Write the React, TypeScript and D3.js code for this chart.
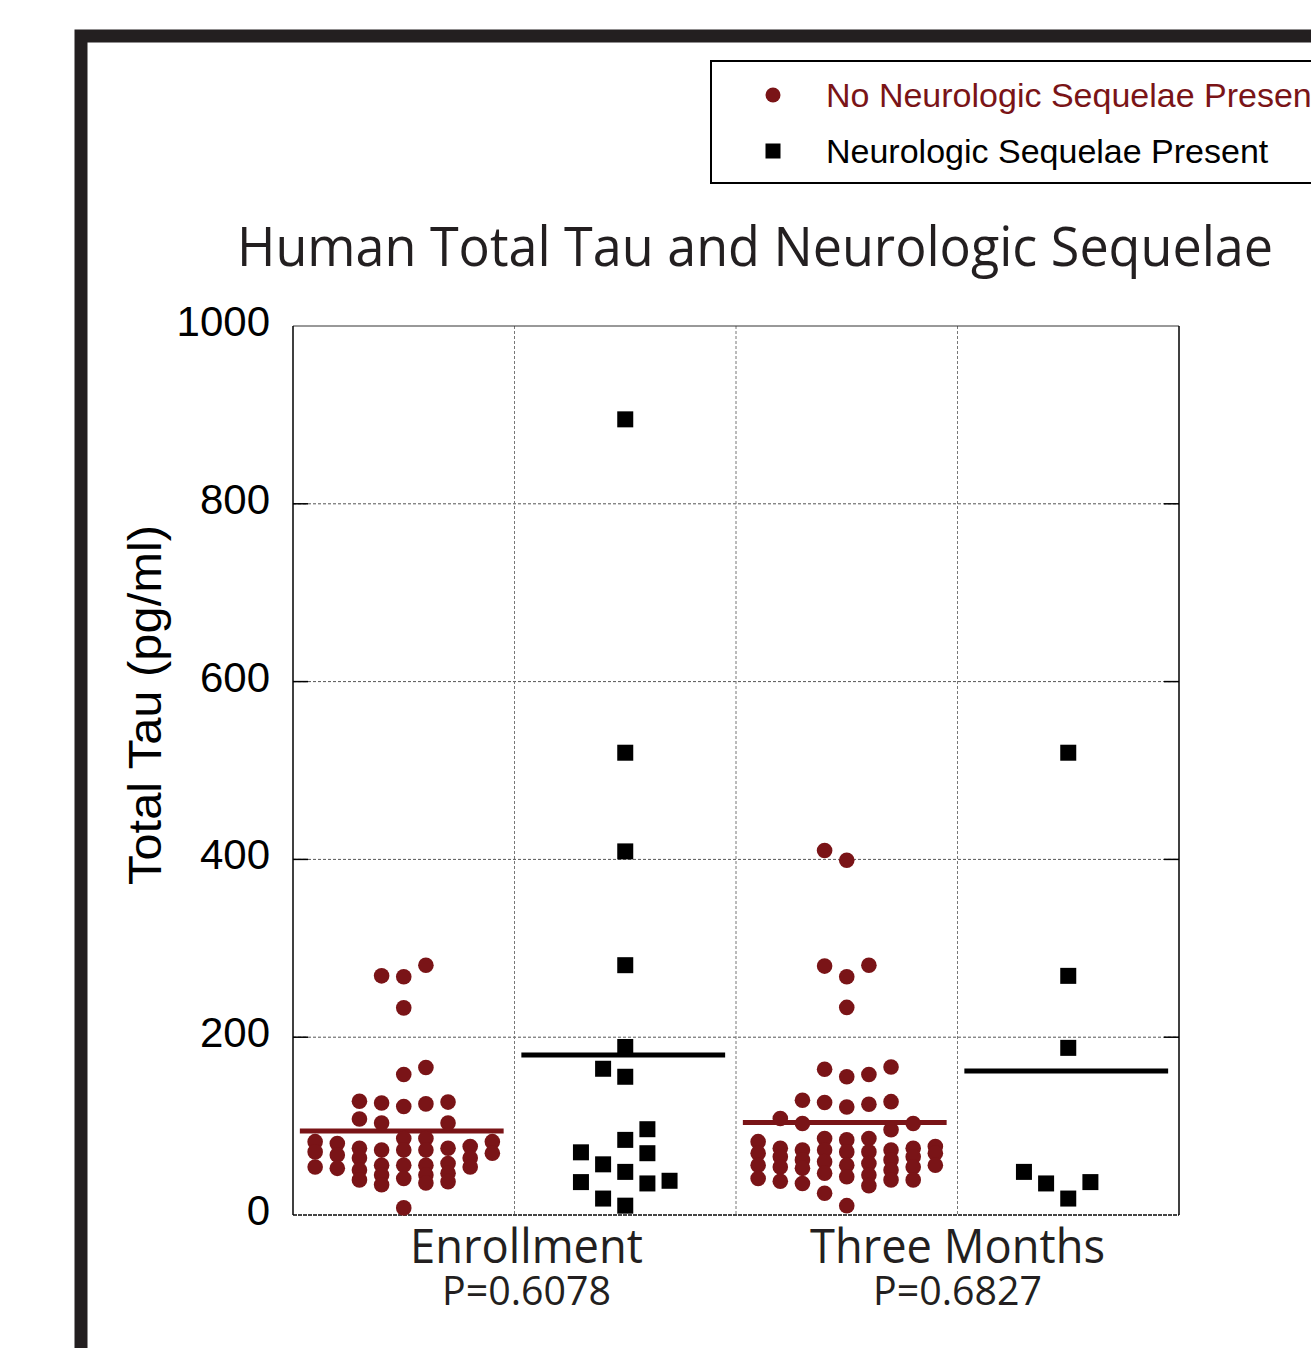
import React from "react";
import { scaleBand, scaleLinear } from "d3";

// categories
const timepoints = ["Enrollment", "Three Months"];
const pValues = ["P=0.6078", "P=0.6827"];
const statusNames = ["No Neurologic Sequelae Present", "Neurologic Sequelae Present"];
const yTicks = [0, 200, 400, 600, 800, 1000];

// Enrollment, no sequelae (value pg/ml, swarm slot)
const enrollNoValues = [
  269, 268, 281, 233, 158, 166, 128, 126, 122, 125, 127, 108, 103.5, 103.5,
  82.5, 71, 54,
  80.5, 67.5, 52.5,
  75, 64, 50.5, 39.5,
  73, 56, 45, 34,
  86, 73, 56, 41, 8,
  86, 73, 56, 45, 36,
  75, 58, 47, 37.5,
  77, 64, 54,
  82.5, 69.5,
];
const enrollNoSlots = [
  -1, 0, 1, 0, 0, 1, -2, -1, 0, 1, 2, -2, -1, 2,
  -4, -4, -4,
  -3, -3, -3,
  -2, -2, -2, -2,
  -1, -1, -1, -1,
  0, 0, 0, 0, 0,
  1, 1, 1, 1, 1,
  2, 2, 2, 2,
  3, 3, 3,
  4, 4,
];

// Enrollment, sequelae present
const enrollYesValues = [895, 520, 409, 281, 189, 164.5, 155.5, 96.5, 84.5, 70.5, 69.5, 57, 48.5, 37, 35.5, 38.5, 18.5, 10.5];
const enrollYesSlots = [0, 0, 0, 0, 0, -1, 0, 1, 0, -2, 1, -1, 0, -2, 1, 2, -1, 0];

// Three months, no sequelae
const threeNoValues = [
  410, 399, 280, 268, 281, 233.5, 164, 155.5, 158, 166.5, 129, 126.5, 121.5, 124.5, 127.5, 108.5, 103, 96, 103,
  82.5, 69.5, 56, 41,
  75, 65.5, 54, 38,
  73, 62, 52.5, 35.5,
  86, 73, 60, 47, 24.5,
  84.5, 71, 56, 43, 10.5,
  86, 71, 58, 45, 33,
  73, 62, 50.5, 39.5,
  75, 65.5, 54, 39.5,
  77, 69.5, 56,
];
const threeNoSlots = [
  -1, 0, -1, 0, 1, 0, -1, 0, 1, 2, -2, -1, 0, 1, 2, -3, -2, 2, 3,
  -4, -4, -4, -4,
  -3, -3, -3, -3,
  -2, -2, -2, -2,
  -1, -1, -1, -1, -1,
  0, 0, 0, 0, 0,
  1, 1, 1, 1, 1,
  2, 2, 2, 2,
  3, 3, 3, 3,
  4, 4, 4,
];

// Three months, sequelae present
const threeYesValues = [520, 269, 188, 48.5, 35.5, 18.5, 37];
const threeYesSlots = [0, 0, 0, -2, -1, 0, 1];

// mean lines
const groupMeans = [94.5, 180, 104, 162];

const RED = "#7a1417";
const INK = "#231f20";
const humanist = "'Open Sans', 'Noto Sans', sans-serif";
const arial = "'Liberation Sans', Arial, sans-serif";

const groups = [
  { key: "enr-no", values: enrollNoValues, slots: enrollNoSlots, status: 0 },
  { key: "enr-yes", values: enrollYesValues, slots: enrollYesSlots, status: 1 },
  { key: "3m-no", values: threeNoValues, slots: threeNoSlots, status: 0 },
  { key: "3m-yes", values: threeYesValues, slots: threeYesSlots, status: 1 },
];

const plot = { left: 293, right: 1179, top: 326, bottom: 1215 };
const labelNudge = [12, 0];

function Marker({ status, cx, cy, r }) {
  if (status === 0) return <circle cx={cx} cy={cy} r={r} fill={RED} />;
  return <rect x={cx - r} y={cy - r} width={r * 2} height={r * 2} fill="#000" />;
}

export default function App() {
  const x = scaleBand()
    .domain(groups.map((g) => g.key))
    .range([plot.left, plot.right])
    .padding(0);
  const y = scaleLinear().domain([0, 1000]).range([plot.bottom, plot.top]);
  const bw = x.bandwidth();
  const slotStep = bw / 10;

  return (
    <svg
      width={1311}
      height={1348}
      style={{ position: "absolute", left: 0, top: 0, background: "#fff" }}
    >
      {/* outer frame */}
      <rect x={81} y={36} width={2000} height={2000} fill="none" stroke={INK} strokeWidth={13} />

      {/* legend */}
      <g>
        <rect x={711} y={61} width={700} height={122} fill="#fff" stroke="#000" strokeWidth={2} />
        {statusNames.map((name, i) => (
          <g key={name} transform={`translate(0, ${95 + i * 56})`}>
            <Marker status={i} cx={773} cy={0} r={i === 0 ? 7.5 : 7.5} />
            <text
              x={826}
              y={12}
              fontFamily={arial}
              fontSize={34}
              fill={i === 0 ? RED : "#000"}
            >
              {name}
            </text>
          </g>
        ))}
      </g>

      {/* title */}
      <text
        x={755}
        y={266}
        textAnchor="middle"
        fontFamily={humanist}
        fontSize={55}
        fill={INK}
        textLength={1036}
        lengthAdjust="spacingAndGlyphs"
      >
        Human Total Tau and Neurologic Sequelae
      </text>

      {/* grid */}
      {yTicks.filter((t) => t > 0 && t < 1000).map((t) => (
        <line
          key={`h${t}`}
          x1={plot.left}
          x2={plot.right}
          y1={y(t)}
          y2={y(t)}
          stroke="#555"
          strokeWidth={1}
          strokeDasharray="3,2"
        />
      ))}
      {groups.slice(1).map((g) => (
        <line
          key={`v${g.key}`}
          x1={x(g.key)}
          x2={x(g.key)}
          y1={plot.top}
          y2={plot.bottom}
          stroke="#777"
          strokeWidth={1}
          strokeDasharray="3,2"
        />
      ))}

      {/* plot frame and ticks */}
      <line x1={plot.left} x2={plot.right} y1={plot.top} y2={plot.top} stroke="#333" strokeWidth={1} />
      <line x1={plot.left} x2={plot.right} y1={plot.bottom} y2={plot.bottom} stroke="#444" strokeWidth={2} strokeDasharray="4,1" />
      <line x1={plot.left} x2={plot.left} y1={plot.top} y2={plot.bottom} stroke="#000" strokeWidth={1.5} />
      <line x1={plot.right} x2={plot.right} y1={plot.top} y2={plot.bottom} stroke="#000" strokeWidth={1.5} />
      {yTicks.filter((t) => t > 0 && t < 1000).map((t) => (
        <g key={`t${t}`}>
          <line x1={plot.left} x2={plot.left + 15} y1={y(t)} y2={y(t)} stroke="#000" strokeWidth={1.5} />
          <line x1={plot.right - 15} x2={plot.right} y1={y(t)} y2={y(t)} stroke="#000" strokeWidth={1.5} />
        </g>
      ))}

      {/* y tick labels */}
      {yTicks.map((t) => (
        <text
          key={`l${t}`}
          x={270}
          y={y(t) + 10}
          textAnchor="end"
          fontFamily={arial}
          fontSize={42}
          fill="#000"
        >
          {t}
        </text>
      ))}

      {/* y title */}
      <text
        transform="translate(161, 705) rotate(-90)"
        textAnchor="middle"
        fontFamily={arial}
        fontSize={46}
        fill="#000"
        textLength={360}
        lengthAdjust="spacingAndGlyphs"
      >
        Total Tau (pg/ml)
      </text>

      {/* mean lines */}
      {groups.map((g, i) => {
        const cx = x(g.key) + bw / 2;
        return (
          <line
            key={`m${g.key}`}
            x1={cx - bw * 0.46 - 2}
            x2={cx + bw * 0.46 - 2}
            y1={y(groupMeans[i])}
            y2={y(groupMeans[i])}
            stroke={g.status === 0 ? RED : "#000"}
            strokeWidth={5}
          />
        );
      })}

      {/* points */}
      {groups.map((g) => {
        const cx = x(g.key) + bw / 2;
        return (
          <g key={`p${g.key}`}>
            {g.values.map((v, j) => (
              <Marker
                key={j}
                status={g.status}
                cx={cx + g.slots[j] * slotStep}
                cy={y(v)}
                r={g.status === 0 ? 7.8 : 8}
              />
            ))}
          </g>
        );
      })}

      {/* x labels */}
      {timepoints.map((tp, i) => {
        const k0 = groups[i * 2].key;
        const cx = x(k0) + bw + labelNudge[i];
        return (
          <g key={tp}>
            <text
              x={cx}
              y={1263}
              textAnchor="middle"
              fontFamily={humanist}
              fontSize={47}
              fill={INK}
              textLength={i === 0 ? 233 : 295}
              lengthAdjust="spacingAndGlyphs"
            >
              {tp}
            </text>
            <text
              x={cx}
              y={1305}
              textAnchor="middle"
              fontFamily={humanist}
              fontSize={40}
              fill={INK}
              textLength={169}
              lengthAdjust="spacingAndGlyphs"
            >
              {pValues[i]}
            </text>
          </g>
        );
      })}
    </svg>
  );
}
